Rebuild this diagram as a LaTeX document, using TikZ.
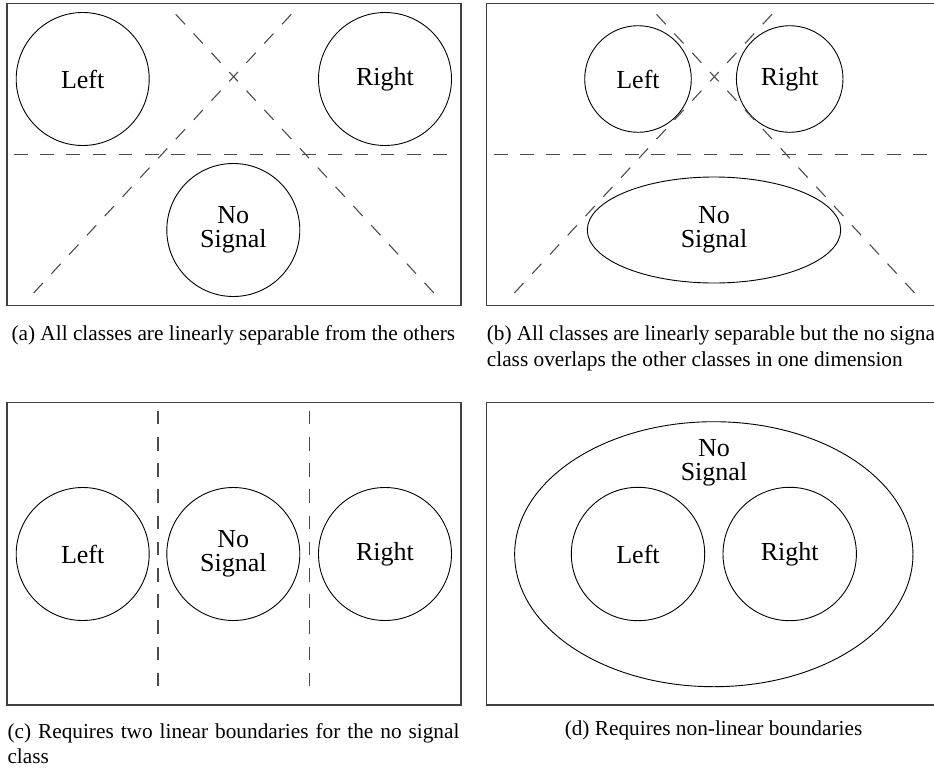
\documentclass[tikz,border=0pt]{standalone}
\usepackage{fontspec}
\setmainfont{Liberation Serif}
\usetikzlibrary{shapes.geometric}

\begin{document}
\begin{tikzpicture}[x=1pt,y=-1pt,
  panelbox/.style={draw=black!75, line width=1.1pt},
  cls/.style={circle, draw=black, line width=0.9pt, inner sep=0pt,
    minimum size=#1, align=center, font=\fontsize{26}{24.5}\selectfont},
  classoval/.style 2 args={ellipse, draw=black, line width=0.9pt, inner sep=0pt,
    minimum width=#1, minimum height=#2, align=center,
    font=\fontsize{26}{24.5}\selectfont},
  classtext/.style={inner sep=0pt, align=center, font=\fontsize{26}{24.5}\selectfont},
  sepline/.style={draw=black!70, line width=1.1pt, dash pattern=on 13.6pt off 12.6pt},
  captext/.style={inner sep=0pt, font=\fontsize{21.3}{25}\selectfont},
]
\useasboundingbox (0,0) rectangle (934,771);
\clip (0,0) rectangle (934,771);

% ---------- (a) three separable classes ----------
\draw[panelbox] (7,3.3) rectangle (461,305.7);
\node[cls=133pt] (aL) at (82.7,79) {Left};
\node[cls=133pt] (aR) at (385,79) {Right};
\node[cls=133pt] (aN) at (233.3,230) {No\\Signal};
\coordinate (aH1) at (14,154.3);
\coordinate (aH2) at (453,154.3);
\coordinate (aP1) at (172.7,11);
\coordinate (aP2) at (438.3,297.7);
\coordinate (aQ1) at (294.3,11);
\coordinate (aQ2) at (29.3,297.7);
\coordinate (aX) at (intersection of aP1--aP2 and aQ1--aQ2);
\draw[sepline] (aH1) -- (aH2);
\draw[sepline, dash phase=7.2pt] (aX) -- (aP1);
\draw[sepline, dash phase=7.2pt] (aX) -- (aP2);
\draw[sepline, dash phase=7.2pt] (aX) -- (aQ1);
\draw[sepline, dash phase=7.2pt] (aX) -- (aQ2);
\node[captext, anchor=base] (capa) at (233.3,340.7)
  {(a) All classes are linearly separable from the others};

% ---------- (b) no-signal class overlapping in one dimension ----------
\draw[panelbox] (486.7,3.3) rectangle (940.7,305.7);
\node[cls=106.6pt] (bL) at (638,79) {Left};
\node[cls=106.6pt] (bR) at (789.7,79) {Right};
\node[classoval={253.4pt}{106pt}] (bN) at (714,230) {No\\Signal};
\coordinate (bH1) at (494,154.3);
\coordinate (bH2) at (960,154.3);
\coordinate (bP1) at (653.4,11);
\coordinate (bP2) at (919,297.7);
\coordinate (bQ1) at (775,11);
\coordinate (bQ2) at (510,297.7);
\coordinate (bX) at (intersection of bP1--bP2 and bQ1--bQ2);
\draw[sepline] (bH1) -- (bH2);
\draw[sepline, dash phase=7.2pt] (bX) -- (bP1);
\draw[sepline, dash phase=7.2pt] (bX) -- (bP2);
\draw[sepline, dash phase=7.2pt] (bX) -- (bQ1);
\draw[sepline, dash phase=7.2pt] (bX) -- (bQ2);
\node[captext, anchor=base west] (capb1) at (486.7,340.7)
  {\makebox[454pt][s]{(b) All classes are linearly separable but the no signal}};
\node[captext, anchor=base west] (capb2) at (486.7,366)
  {class overlaps the other classes in one dimension};

% ---------- (c) two linear boundaries ----------
\draw[panelbox] (7,402.7) rectangle (461,705);
\node[cls=133pt] (cL) at (82.7,554) {Left};
\node[cls=133pt] (cN) at (233.3,554) {No\\Signal};
\node[cls=133pt] (cR) at (385,554) {Right};
\coordinate (cV1a) at (158,410.7);
\coordinate (cV1b) at (158,698.3);
\coordinate (cV2a) at (309.3,410.7);
\coordinate (cV2b) at (309.3,698.3);
\draw[sepline] (cV1a) -- (cV1b);
\draw[sepline] (cV2a) -- (cV2b);
\node[captext, anchor=base west] (capc1) at (7.3,738.3)
  {\makebox[452pt][s]{(c) Requires two linear boundaries for the no signal}};
\node[captext, anchor=base west] (capc2) at (7.3,763.3) {class};

% ---------- (d) non-linear boundary ----------
\draw[panelbox] (486.7,402.7) rectangle (940.7,705);
\node[classoval={398.3pt}{265pt}] (dN) at (713.8,554.2) {};
\node[classtext] (dNt) at (714,463) {No\\Signal};
\node[cls=133.4pt] (dL) at (638,554) {Left};
\node[cls=133.4pt] (dR) at (789.7,554) {Right};
\node[captext, anchor=base] (capd) at (713.5,735.5)
  {(d) Requires non-linear boundaries};
\end{tikzpicture}
\end{document}
